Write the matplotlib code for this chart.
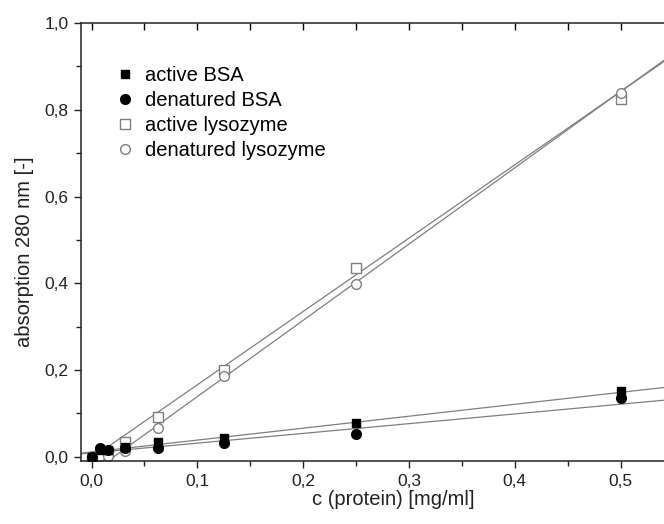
import numpy as np
import matplotlib
matplotlib.use('Agg')
import matplotlib.pyplot as plt
from matplotlib.ticker import MultipleLocator, FuncFormatter

plt.rcParams['font.family'] = ['Liberation Sans', 'DejaVu Sans']

# protein concentrations, two-fold dilution series [mg/ml]
conc = [0.0, 0.0078, 0.0156, 0.03125, 0.0625, 0.125, 0.25, 0.5]

active_bsa = [0.0, 0.015, 0.016, 0.023, 0.035, 0.044, 0.078, 0.152]
denat_bsa = [0.0, 0.021, 0.016, 0.020, 0.021, 0.032, 0.053, 0.135]
active_lyso = [0.0, 0.004, 0.010, 0.035, 0.091, 0.200, 0.435, 0.825]
denat_lyso = [0.0, 0.002, 0.001, 0.014, 0.066, 0.187, 0.399, 0.838]

# linear fits (slope, intercept)
fit_active_bsa = (0.275, 0.011)
fit_denat_bsa = (0.2245, 0.009)
fit_active_lyso = (1.69, -0.003)
fit_denat_lyso = (1.758, -0.037)

gray = '#7f7f7f'

fig = plt.figure(figsize=(6.64, 5.24), dpi=100)
ax = fig.add_axes([0.122, 0.120, 0.94, 0.836])
ax.set_xlim(-0.01, 0.58)
ax.set_ylim(-0.01, 1.0)

xfit = np.array(ax.get_xlim())
for slope, icpt in [fit_active_bsa, fit_denat_bsa, fit_active_lyso, fit_denat_lyso]:
    ax.plot(xfit, slope * xfit + icpt, color=gray, lw=0.9, zorder=1)

ax.plot(conc, active_lyso, ls='none', marker='s', ms=6.5, mfc='white', mec=gray,
        mew=1.0, label='active lysozyme', zorder=2)
ax.plot(conc, denat_lyso, ls='none', marker='o', ms=7, mfc='white', mec=gray,
        mew=1.0, label='denatured lysozyme', zorder=2)
ax.plot(conc, active_bsa, ls='none', marker='s', ms=6, color='black',
        label='active BSA', zorder=3)
ax.plot(conc, denat_bsa, ls='none', marker='o', ms=7, color='black',
        label='denatured BSA', zorder=3)

h, l = ax.get_legend_handles_labels()
order = [2, 3, 0, 1]
ax.legend([h[i] for i in order], [l[i] for i in order], loc='upper left',
          bbox_to_anchor=(0.045, 0.92), frameon=False, fontsize=14.5,
          handlelength=0.75, handletextpad=0.65, labelspacing=0.29,
          borderaxespad=0)

comma = FuncFormatter(lambda v, p: ('%.1f' % v).replace('.', ','))
ax.xaxis.set_major_locator(MultipleLocator(0.1))
ax.xaxis.set_minor_locator(MultipleLocator(0.05))
ax.yaxis.set_major_locator(MultipleLocator(0.2))
ax.yaxis.set_minor_locator(MultipleLocator(0.1))
ax.xaxis.set_major_formatter(comma)
ax.yaxis.set_major_formatter(comma)

ax.tick_params(which='both', direction='out', top=False, right=False,
               labelsize=12.5, width=1.0, color='#222222', labelcolor='#222222')
ax.tick_params(which='major', length=5, pad=4)
ax.tick_params(which='minor', length=3.5)
sec = ax.secondary_xaxis('top')
sec.xaxis.set_major_locator(MultipleLocator(0.1))
sec.xaxis.set_minor_locator(MultipleLocator(0.05))
sec.tick_params(which='both', direction='in', labeltop=False, width=1.0, length=5)
sec.spines['top'].set_visible(False)
secy = ax.secondary_yaxis('right')
secy.yaxis.set_major_locator(MultipleLocator(0.2))
secy.yaxis.set_minor_locator(MultipleLocator(0.1))
secy.tick_params(which='both', direction='in', labelright=False, width=1.0, length=5)
secy.spines['right'].set_visible(False)

for s in ax.spines.values():
    s.set_linewidth(1.1)
    s.set_color('#222222')

ax.set_xlabel('c (protein) [mg/ml]', fontsize=14.5, labelpad=1, color='#222222')
ax.set_ylabel('absorption 280 nm [-]', fontsize=14.5, color='#222222')
ax.yaxis.set_label_coords(-0.075, 0.477)

fig.savefig('out.png', dpi=100)
